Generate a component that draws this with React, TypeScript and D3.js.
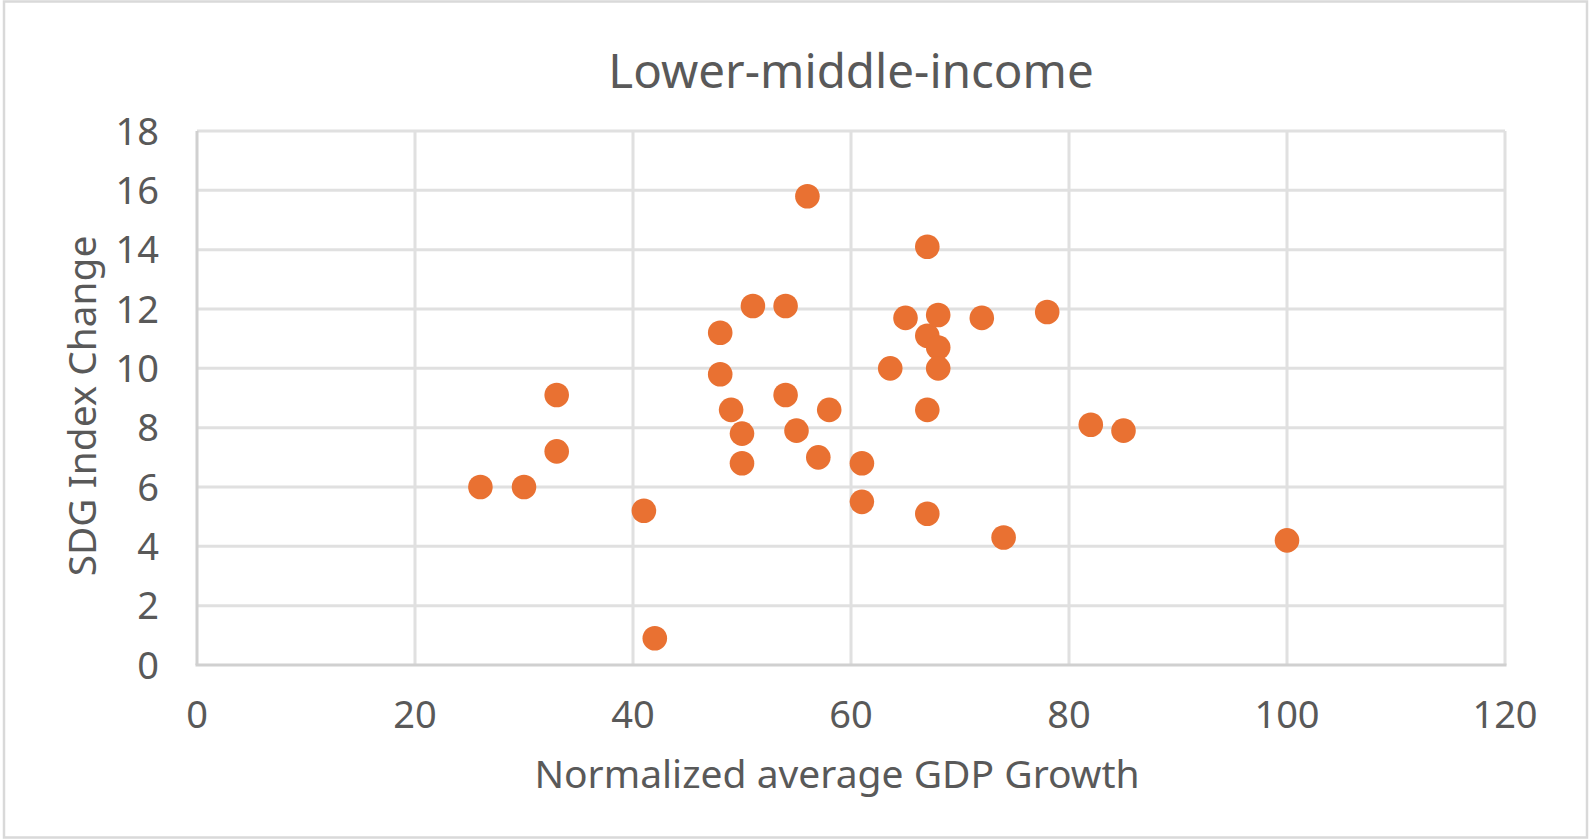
import { useEffect, useRef } from "react";
import * as d3 from "d3";

// Normalized average GDP growth (x) and SDG index change (y), one entry per country
const gdpGrowth = [
  26, 30, 33, 33, 41, 42, 48, 48, 49, 50, 50, 51, 54, 54, 55, 56, 57, 58, 61,
  61, 63.6, 65, 67, 67, 67, 67, 68, 68, 68, 72, 74, 78, 82, 85, 100,
];
const sdgChange = [
  6.0, 6.0, 9.1, 7.2, 5.2, 0.9, 11.2, 9.8, 8.6, 7.8, 6.8, 12.1, 12.1, 9.1, 7.9,
  15.8, 7.0, 8.6, 6.8, 5.5, 10.0, 11.7, 14.1, 11.1, 8.6, 5.1, 11.8, 10.7, 10.0,
  11.7, 4.3, 11.9, 8.1, 7.9, 4.2,
];
const xTicks = [0, 20, 40, 60, 80, 100, 120];
const yTicks = [0, 2, 4, 6, 8, 10, 12, 14, 16, 18];

const chartTitle = "Lower-middle-income";
const xTitle = "Normalized average GDP Growth";
const yTitle = "SDG Index Change";

export default function App() {
  const svgRef = useRef<SVGSVGElement>(null);

  useEffect(() => {
    if (!svgRef.current) return;

    const width = 1590;
    const height = 840;
    const margin = { top: 131, right: 85, bottom: 175, left: 197 };
    const innerWidth = width - margin.left - margin.right;
    const innerHeight = height - margin.top - margin.bottom;
    const font = "'Noto Sans', sans-serif";
    const textColor = "#595959";

    d3.select(svgRef.current).selectAll("*").remove();

    const svg = d3
      .select(svgRef.current)
      .attr("width", width)
      .attr("height", height);

    // chart frame
    svg
      .append("rect")
      .attr("x", 4)
      .attr("y", 1.5)
      .attr("width", 1583)
      .attr("height", 836)
      .attr("fill", "#fff")
      .attr("stroke", "#d9d9d9")
      .attr("stroke-width", 2.5);

    const g = svg
      .append("g")
      .attr("transform", `translate(${margin.left},${margin.top})`);

    const x = d3.scaleLinear().domain([0, 120]).range([0, innerWidth]);
    const y = d3.scaleLinear().domain([0, 18]).range([innerHeight, 0]);

    // gridlines
    g.append("g")
      .selectAll("line")
      .data(yTicks.slice(1))
      .join("line")
      .attr("x1", 0)
      .attr("x2", innerWidth)
      .attr("y1", (d) => y(d))
      .attr("y2", (d) => y(d))
      .attr("stroke", "#e0e0e0")
      .attr("stroke-width", 3);

    g.append("g")
      .selectAll("line")
      .data(xTicks.slice(1))
      .join("line")
      .attr("x1", (d) => x(d))
      .attr("x2", (d) => x(d))
      .attr("y1", 0)
      .attr("y2", innerHeight)
      .attr("stroke", "#e0e0e0")
      .attr("stroke-width", 3);

    // axis lines
    g.append("line")
      .attr("x1", 0)
      .attr("x2", 0)
      .attr("y1", 0)
      .attr("y2", innerHeight)
      .attr("stroke", "#d0d0d0")
      .attr("stroke-width", 3);
    g.append("line")
      .attr("x1", -1.5)
      .attr("x2", innerWidth + 1.5)
      .attr("y1", innerHeight)
      .attr("y2", innerHeight)
      .attr("stroke", "#d0d0d0")
      .attr("stroke-width", 3);

    // tick labels
    g.append("g")
      .selectAll("text")
      .data(xTicks)
      .join("text")
      .attr("x", (d) => x(d))
      .attr("y", innerHeight + 63)
      .attr("text-anchor", "middle")
      .attr("font-family", font)
      .attr("font-size", 38)
      .attr("fill", textColor)
      .text((d) => d);

    g.append("g")
      .selectAll("text")
      .data(yTicks)
      .join("text")
      .attr("x", -38)
      .attr("y", (d) => y(d))
      .attr("dy", "0.36em")
      .attr("text-anchor", "end")
      .attr("font-family", font)
      .attr("font-size", 38)
      .attr("fill", textColor)
      .text((d) => d);

    // points
    const data = gdpGrowth.map((v, i) => ({ gdp: v, sdg: sdgChange[i] }));
    g.append("g")
      .selectAll("circle")
      .data(data)
      .join("circle")
      .attr("cx", (d) => x(d.gdp))
      .attr("cy", (d) => y(d.sdg))
      .attr("r", 12.3)
      .attr("fill", "#E97132");

    // titles
    svg
      .append("text")
      .attr("x", margin.left + innerWidth / 2)
      .attr("y", 88)
      .attr("text-anchor", "middle")
      .attr("font-family", font)
      .attr("font-size", 47.5)
      .attr("fill", textColor)
      .text(chartTitle);

    svg
      .append("text")
      .attr("x", 837)
      .attr("y", 788)
      .attr("text-anchor", "middle")
      .attr("font-family", font)
      .attr("font-size", 39)
      .attr("fill", textColor)
      .text(xTitle);

    svg
      .append("text")
      .attr("transform", `translate(96,406) rotate(-90)`)
      .attr("text-anchor", "middle")
      .attr("font-family", font)
      .attr("font-size", 38.8)
      .attr("fill", textColor)
      .text(yTitle);
  }, []);

  return (
    <svg
      ref={svgRef}
      style={{ position: "absolute", left: 0, top: 0, display: "block" }}
    />
  );
}
